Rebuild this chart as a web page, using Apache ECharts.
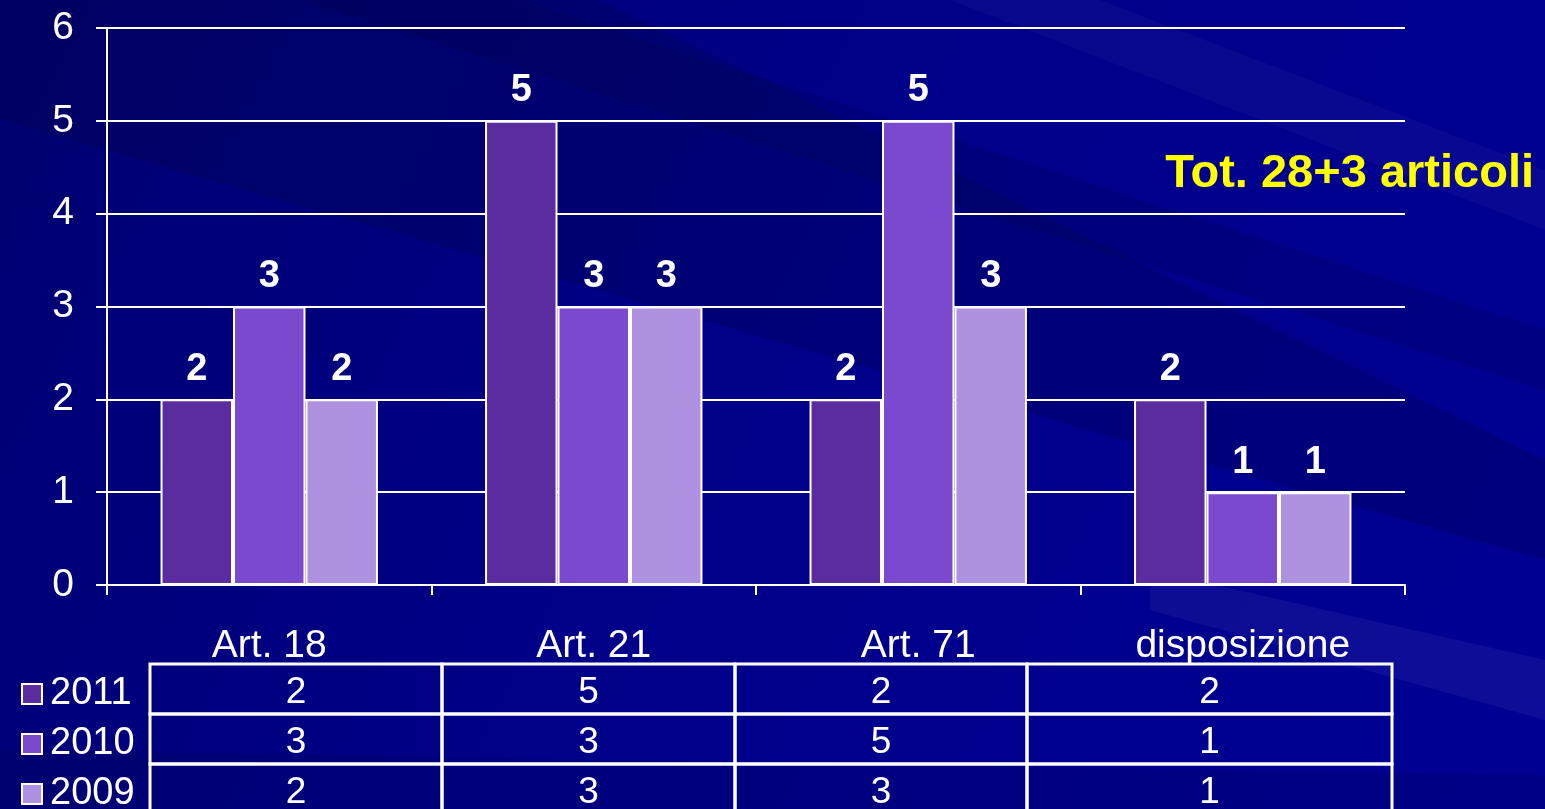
<!DOCTYPE html>
<html>
<head>
<meta charset="utf-8">
<script src="https://cdn.jsdelivr.net/npm/echarts@6/dist/echarts.min.js"></script>
<style>
  html, body { margin: 0; padding: 0; background: #00008a; }
  #main { width: 1545px; height: 809px; }
</style>
</head>
<body>
<div id="main"></div>
<script>
// dati
const categories = ['Art. 18', 'Art. 21', 'Art. 71', 'disposizione'];
const years = ['2011', '2010', '2009'];
const values2011 = [2, 5, 2, 2];
const values2010 = [3, 3, 5, 1];
const values2009 = [2, 3, 3, 1];
const yearColors = ['#5b2ba0', '#7a49cd', '#ae91e0'];
const totalText = 'Tot. 28+3 articoli';

const font = "'Liberation Sans', Arial, sans-serif";
const seriesValues = [values2011, values2010, values2009];

// tabella dati sotto il grafico
const tableCols = [150, 442, 735, 1027, 1392];
const tableRows = [664, 714, 764, 814];
let tableGraphics = [];
for (let r = 0; r < years.length; r++) {
  for (let c = 0; c < categories.length; c++) {
    let x0 = tableCols[c], x1 = tableCols[c + 1];
    let y0 = tableRows[r], y1 = tableRows[r + 1];
    tableGraphics.push({
      type: 'rect',
      shape: { x: x0, y: y0, width: x1 - x0, height: y1 - y0 },
      style: { fill: 'none', stroke: '#ffffff', lineWidth: 3 },
      z: 10
    });
    tableGraphics.push({
      type: 'text',
      x: (x0 + x1) / 2,
      y: (y0 + y1) / 2 + 4,
      style: {
        text: String(seriesValues[r][c]),
        fill: '#ffffff',
        font: '37px ' + font,
        align: 'center',
        verticalAlign: 'middle'
      },
      z: 10
    });
  }
}

// sfondo con strisce diagonali leggere
const bgGraphics = [
  { type: 'polygon', shape: { points: [[0, 0], [600, 0], [1545, 460], [1545, 560], [0, 120]] },
    style: { fill: 'rgba(0,0,40,0.18)' }, z: -20 },
  { type: 'polygon', shape: { points: [[300, 0], [520, 0], [1545, 330], [1545, 390]] },
    style: { fill: 'rgba(0,0,30,0.12)' }, z: -19 },
  { type: 'polygon', shape: { points: [[950, 0], [1100, 0], [1545, 170], [1545, 230]] },
    style: { fill: 'rgba(255,255,255,0.03)' }, z: -19 },
  { type: 'polygon', shape: { points: [[1150, 570], [1545, 660], [1545, 720], [1150, 610]] },
    style: { fill: 'rgba(255,255,255,0.05)' }, z: -19 },
  { type: 'polygon', shape: { points: [[0, 750], [1545, 775], [1545, 809], [0, 809]] },
    style: { fill: 'rgba(0,0,40,0.12)' }, z: -19 }
];

const chart = echarts.init(document.getElementById('main'));

// una legenda per riga, allineata alle righe della tabella
const legendTops = [670, 720, 770];
const legends = years.map((y, i) => ({
  orient: 'vertical',
  left: 16,
  top: legendTops[i],
  itemWidth: 20,
  itemHeight: 20,
  icon: 'rect',
  itemStyle: { borderColor: '#ffffff', borderWidth: 2 },
  textStyle: { color: '#ffffff', fontSize: 38, fontFamily: font, padding: [0, 0, 0, 3] },
  data: [y]
}));

const option = {
  backgroundColor: {
    type: 'linear', x: 0, y: 0, x2: 1, y2: 1,
    colorStops: [
      { offset: 0, color: '#000070' },
      { offset: 0.45, color: '#000088' },
      { offset: 1, color: '#000094' }
    ]
  },
  animation: false,
  textStyle: { fontFamily: font },
  title: {
    text: totalText,
    right: 6,
    top: 146,
    textStyle: { color: '#ffff00', fontSize: 47, fontWeight: 'bold', fontFamily: font }
  },
  legend: legends,
  grid: { left: 107, right: 140, top: 28, bottom: 224 },
  xAxis: {
    type: 'category',
    data: categories,
    axisLine: { show: true, lineStyle: { color: '#ffffff', width: 2 } },
    axisTick: { show: true, length: 10, lineStyle: { color: '#ffffff', width: 2 } },
    axisLabel: { color: '#ffffff', fontSize: 39, margin: 42, fontFamily: font },
    splitLine: { show: false }
  },
  yAxis: {
    type: 'value',
    min: 0,
    max: 6,
    interval: 1,
    axisLine: { show: true, lineStyle: { color: '#ffffff', width: 2 } },
    axisTick: { show: true, length: 11, lineStyle: { color: '#ffffff', width: 2 } },
    axisLabel: { color: '#ffffff', fontSize: 39, margin: 33, fontFamily: font },
    splitLine: { show: true, lineStyle: { color: '#ffffff', width: 2 } }
  },
  series: years.map((y, i) => ({
    name: y,
    type: 'bar',
    data: seriesValues[i],
    barGap: '0%',
    barCategoryGap: '33%',
    itemStyle: { color: yearColors[i], borderColor: '#ffffff', borderWidth: 2 },
    label: {
      show: true,
      position: 'top',
      distance: 11,
      color: '#ffffff',
      fontSize: 38,
      fontWeight: 'bold',
      fontFamily: font
    }
  })),
  graphic: bgGraphics.concat(tableGraphics)
};

chart.setOption(option);
</script>
</body>
</html>
